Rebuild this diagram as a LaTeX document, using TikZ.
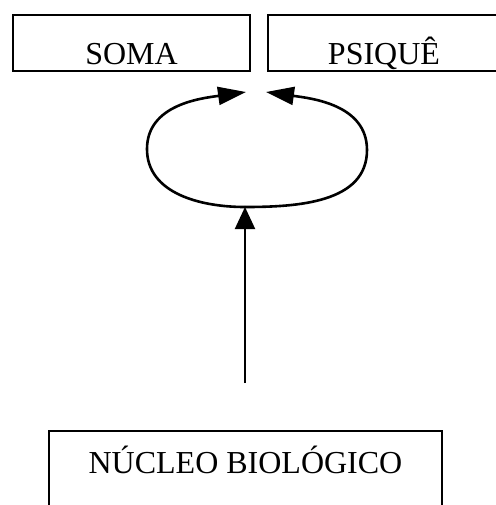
\documentclass[tikz,border=0pt]{standalone}
\usepackage{fontspec}
\setmainfont{Liberation Serif}
\usetikzlibrary{arrows.meta, positioning, calc}

\tikzset{
    box/.style={draw, line width=1.2pt, inner xsep=0pt, inner ysep=0pt, anchor=north},
    looparrow/.style={line width=1.3pt, -{Triangle[length=14pt, width=9pt]}},
    uparrow/.style={line width=1pt, -{Triangle[length=11pt, width=10pt]}}
}

\begin{document}
\begin{tikzpicture}[x=0.5pt, y=-0.5pt, font=\fontsize{16}{19}\selectfont]
    % Frame
    \clip (0,0) rectangle (496,505);

    % Boxes
    \node[box, minimum width=118.5pt, text height=24.5pt, text depth=3.5pt] (soma) at (131.5,14) {SOMA};
    \node[box, minimum width=116pt, text height=24.5pt, text depth=3.5pt] (psique) at (384,14) {PSIQUÊ};
    \node[box, minimum width=196.5pt, text height=21pt, text depth=30pt] (nucleo) at (245.5,430) {NÚCLEO BIOLÓGICO};

    % Loop
    \coordinate (bot) at (245,207);
    \coordinate (lft) at (147,149);
    \coordinate (rgt) at (367,150);
    \coordinate (tipL) at (246,92);
    \coordinate (tipR) at (266,92);
    \draw[looparrow] (bot) to[out=180, in=-90] (lft) to[out=90, in=188] (tipL);
    \draw[looparrow] (bot) to[out=0, in=-90] (rgt) to[out=90, in=-8] (tipR);

    % Upward arrow
    \coordinate (base) at (245,383);
    \draw[uparrow] (base) -- (bot);
\end{tikzpicture}
\end{document}
